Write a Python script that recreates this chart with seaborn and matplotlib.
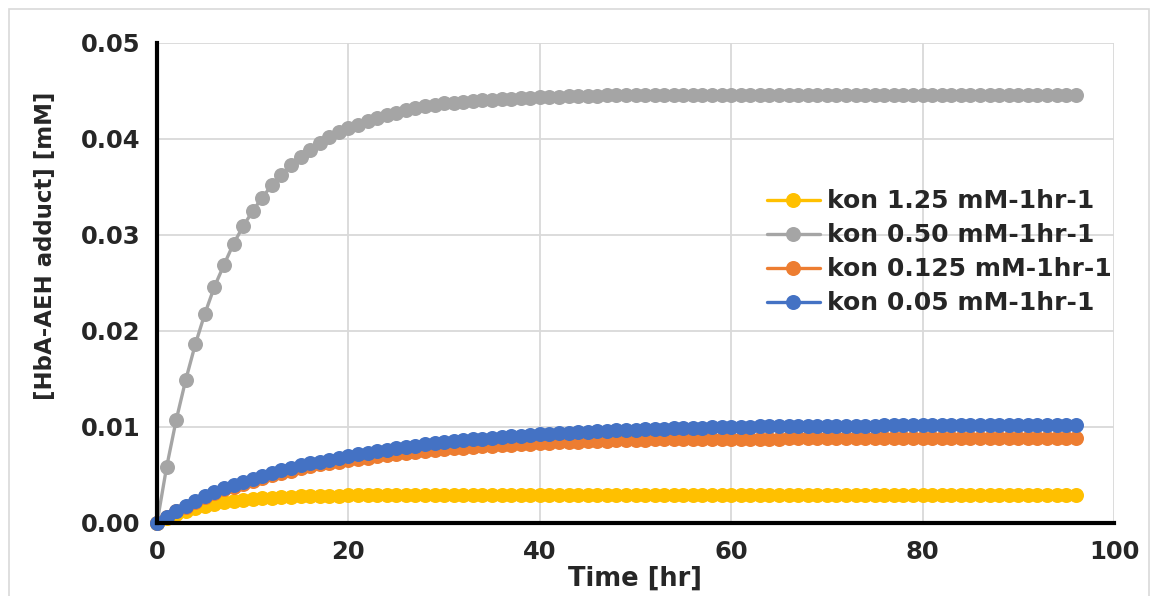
import matplotlib
matplotlib.use("Agg")
import matplotlib.pyplot as plt
import matplotlib.patches as mpatches
import seaborn as sns
import pandas as pd

hours = [0, 1, 2, 3, 4, 5, 6, 7, 8, 9, 10, 11, 12, 13, 14, 15, 16, 17, 18, 19,
         20, 21, 22, 23, 24, 25, 26, 27, 28, 29, 30, 31, 32, 33, 34, 35, 36, 37, 38, 39,
         40, 41, 42, 43, 44, 45, 46, 47, 48, 49, 50, 51, 52, 53, 54, 55, 56, 57, 58, 59,
         60, 61, 62, 63, 64, 65, 66, 67, 68, 69, 70, 71, 72, 73, 74, 75, 76, 77, 78, 79,
         80, 81, 82, 83, 84, 85, 86, 87, 88, 89, 90, 91, 92, 93, 94, 95, 96]

kon_125 = [0.0, 0.0005, 0.0009, 0.0013, 0.0016, 0.0018, 0.0020, 0.0022, 0.0023, 0.0024,
           0.0025, 0.0026, 0.0026, 0.0027, 0.0027, 0.0028, 0.0028, 0.0028, 0.0028, 0.0028,
           0.0029, 0.0029, 0.0029, 0.0029, 0.0029, 0.0029, 0.0029, 0.0029, 0.0029, 0.0029,
           0.0029, 0.0029, 0.0029, 0.0029, 0.0029, 0.0029, 0.0029, 0.0029, 0.0029, 0.0029,
           0.0029, 0.0029, 0.0029, 0.0029, 0.0029, 0.0029, 0.0029, 0.0029, 0.0029, 0.0029,
           0.0029, 0.0029, 0.0029, 0.0029, 0.0029, 0.0029, 0.0029, 0.0029, 0.0029, 0.0029,
           0.0029, 0.0029, 0.0029, 0.0029, 0.0029, 0.0029, 0.0029, 0.0029, 0.0029, 0.0029,
           0.0029, 0.0029, 0.0029, 0.0029, 0.0029, 0.0029, 0.0029, 0.0029, 0.0029, 0.0029,
           0.0029, 0.0029, 0.0029, 0.0029, 0.0029, 0.0029, 0.0029, 0.0029, 0.0029, 0.0029,
           0.0029, 0.0029, 0.0029, 0.0029, 0.0029, 0.0029, 0.0029]

kon_050 = [0.0, 0.0058, 0.0107, 0.0149, 0.0186, 0.0218, 0.0246, 0.0269, 0.0291, 0.0309,
           0.0325, 0.0339, 0.0352, 0.0363, 0.0373, 0.0381, 0.0389, 0.0396, 0.0402, 0.0407,
           0.0411, 0.0415, 0.0419, 0.0422, 0.0425, 0.0427, 0.0430, 0.0432, 0.0434, 0.0435,
           0.0437, 0.0438, 0.0439, 0.0440, 0.0441, 0.0441, 0.0442, 0.0442, 0.0443, 0.0443,
           0.0444, 0.0444, 0.0444, 0.0445, 0.0445, 0.0445, 0.0445, 0.0446, 0.0446, 0.0446,
           0.0446, 0.0446, 0.0446, 0.0446, 0.0446, 0.0446, 0.0446, 0.0446, 0.0446, 0.0446,
           0.0446, 0.0446, 0.0446, 0.0446, 0.0446, 0.0446, 0.0446, 0.0446, 0.0446, 0.0446,
           0.0446, 0.0446, 0.0446, 0.0446, 0.0446, 0.0446, 0.0446, 0.0446, 0.0446, 0.0446,
           0.0446, 0.0446, 0.0446, 0.0446, 0.0446, 0.0446, 0.0446, 0.0446, 0.0446, 0.0446,
           0.0446, 0.0446, 0.0446, 0.0446, 0.0446, 0.0446, 0.0446]

kon_0125 = [0.0, 0.0006, 0.0012, 0.0017, 0.0022, 0.0027, 0.0031, 0.0035, 0.0038, 0.0041,
            0.0044, 0.0047, 0.0050, 0.0052, 0.0054, 0.0057, 0.0059, 0.0061, 0.0062, 0.0064,
            0.0066, 0.0067, 0.0068, 0.0070, 0.0071, 0.0072, 0.0073, 0.0074, 0.0075, 0.0076,
            0.0077, 0.0078, 0.0078, 0.0079, 0.0080, 0.0080, 0.0081, 0.0081, 0.0082, 0.0082,
            0.0083, 0.0083, 0.0084, 0.0084, 0.0084, 0.0085, 0.0085, 0.0085, 0.0086, 0.0086,
            0.0086, 0.0086, 0.0087, 0.0087, 0.0087, 0.0087, 0.0087, 0.0088, 0.0088, 0.0088,
            0.0088, 0.0088, 0.0088, 0.0088, 0.0088, 0.0088, 0.0089, 0.0089, 0.0089, 0.0089,
            0.0089, 0.0089, 0.0089, 0.0089, 0.0089, 0.0089, 0.0089, 0.0089, 0.0089, 0.0089,
            0.0089, 0.0089, 0.0089, 0.0089, 0.0089, 0.0089, 0.0089, 0.0089, 0.0089, 0.0089,
            0.0089, 0.0089, 0.0089, 0.0089, 0.0089, 0.0089, 0.0089]

kon_005 = [0.0, 0.0006, 0.0012, 0.0018, 0.0023, 0.0028, 0.0032, 0.0036, 0.0040, 0.0043,
           0.0046, 0.0049, 0.0052, 0.0055, 0.0057, 0.0060, 0.0062, 0.0064, 0.0066, 0.0068,
           0.0070, 0.0072, 0.0073, 0.0075, 0.0076, 0.0078, 0.0079, 0.0080, 0.0082, 0.0083,
           0.0084, 0.0085, 0.0086, 0.0087, 0.0088, 0.0089, 0.0090, 0.0091, 0.0091, 0.0092,
           0.0093, 0.0093, 0.0094, 0.0094, 0.0095, 0.0095, 0.0096, 0.0096, 0.0097, 0.0097,
           0.0097, 0.0098, 0.0098, 0.0098, 0.0099, 0.0099, 0.0099, 0.0099, 0.0100, 0.0100,
           0.0100, 0.0100, 0.0100, 0.0101, 0.0101, 0.0101, 0.0101, 0.0101, 0.0101, 0.0101,
           0.0101, 0.0101, 0.0101, 0.0101, 0.0101, 0.0101, 0.0102, 0.0102, 0.0102, 0.0102,
           0.0102, 0.0102, 0.0102, 0.0102, 0.0102, 0.0102, 0.0102, 0.0102, 0.0102, 0.0102,
           0.0102, 0.0102, 0.0102, 0.0102, 0.0102, 0.0102, 0.0102]

labels = ["kon 1.25 mM-1hr-1", "kon 0.50 mM-1hr-1",
          "kon 0.125 mM-1hr-1", "kon 0.05 mM-1hr-1"]
colors = ["#FFC000", "#A5A5A5", "#ED7D31", "#4472C4"]
x_ticks = [0, 20, 40, 60, 80, 100]
y_ticks = [0.00, 0.01, 0.02, 0.03, 0.04, 0.05]
y_tick_labels = ["0.00", "0.01", "0.02", "0.03", "0.04", "0.05"]

series = [kon_125, kon_050, kon_0125, kon_005]
frames = []
for lab, vals in zip(labels, series):
    frames.append(pd.DataFrame({"t": hours, "v": vals, "series": lab}))
df = pd.concat(frames, ignore_index=True)

sns.set_theme(style="white")
plt.rcParams["font.family"] = ["DejaVu Sans"]
plt.rcParams["font.weight"] = "bold"

W, H = 1158, 596
fig = plt.figure(figsize=(W / 100, H / 100), dpi=100)
ax = fig.add_axes([157 / W, 1 - 523 / H, (1114 - 157) / W, (523 - 43) / H])

# outer chart-area border
fig.patches.append(mpatches.Rectangle((9 / W, -0.05), (1149 - 9) / W, (H - 9) / H + 0.05,
                                      transform=fig.transFigure, fill=False,
                                      edgecolor="#d9d9d9", linewidth=1.2, zorder=0))

MS = 10.8
sns.lineplot(data=df, x="t", y="v", hue="series", hue_order=labels,
             palette=dict(zip(labels, colors)), marker="o", markersize=MS,
             markeredgewidth=0, linewidth=2.4, ax=ax, legend=False, sort=False)
for ln in ax.lines:
    ln.set_clip_on(False)

ax.set_xlim(0, 100)
ax.set_ylim(0, 0.05)
ax.set_xticks(x_ticks)
ax.set_yticks(y_ticks)
ax.set_yticklabels(y_tick_labels)
ax.grid(True, color="#d9d9d9", linewidth=1.3)
ax.set_axisbelow(True)
for s in ["top", "right"]:
    ax.spines[s].set_visible(False)
for s in ["left", "bottom"]:
    ax.spines[s].set_color("black")
    ax.spines[s].set_linewidth(3)
ax.tick_params(axis="both", which="major", direction="out", length=7, width=3,
               color="black", labelsize=17.5, pad=5)
for lbl in ax.get_xticklabels() + ax.get_yticklabels():
    lbl.set_fontweight("bold")

ax.set_xlabel("Time [hr]", fontsize=18.5, fontweight="bold")
ax.set_ylabel("[HbA-AEH adduct] [mM]", fontsize=16.5, fontweight="bold")
ax.xaxis.set_label_coords(0.5, -0.115)
ax.xaxis.label.set_va("center")
ax.yaxis.set_label_coords(-0.116, 0.577)
ax.yaxis.label.set_va("center")

handles = [plt.Line2D([], [], color=c, marker="o", markersize=MS, markeredgewidth=0,
                      linewidth=2.4) for c in colors]
leg = ax.legend(handles, labels, loc="center left",
                bbox_to_anchor=((767 - 157) / 957, (523 - 252.5) / 480),
                frameon=False, borderpad=0, borderaxespad=0, handlelength=2.1,
                handletextpad=0.3, labelspacing=0.4,
                prop={"size": 18, "weight": "bold"})

fig.savefig("out.png", dpi=100)
